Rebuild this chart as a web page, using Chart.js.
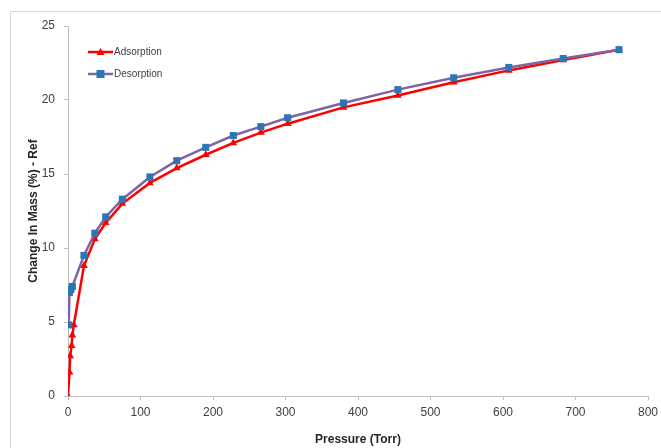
<!DOCTYPE html>
<html>
<head>
<meta charset="utf-8">
<script src="https://cdn.jsdelivr.net/npm/chart.js@4/dist/chart.umd.min.js"></script>
<style>
  html, body { margin: 0; padding: 0; background: #fff; }
  #wrap { width: 661px; height: 448px; position: relative; }
</style>
</head>
<body>
<div id="wrap"><canvas id="isoChart" width="661" height="448"></canvas></div>
<script>
// isotherm data
const adsPressure = [0, 2, 3, 5, 6, 8, 22, 37, 52, 75, 113, 150, 190, 228, 266, 303, 380, 455, 532, 608, 683, 760];
const adsMass = [0, 1.6, 2.7, 3.4, 4.1, 4.8, 8.8, 10.6, 11.7, 13.0, 14.4, 15.4, 16.3, 17.1, 17.8, 18.4, 19.5, 20.3, 21.2, 22.0, 22.7, 23.4];

const desPressure = [760, 683, 608, 532, 455, 380, 303, 266, 228, 190, 150, 113, 75, 52, 37, 22, 6, 4, 2, 1];
const desMass = [23.4, 22.8, 22.2, 21.5, 20.7, 19.8, 18.8, 18.2, 17.6, 16.8, 15.9, 14.8, 13.3, 12.1, 11.0, 9.5, 7.4, 7.2, 7.0, 4.8];

const seriesNames = ['Adsorption', 'Desorption'];
const xTitle = 'Pressure (Torr)';
const yTitle = 'Change In Mass (%) - Ref';

function pts(xs, ys) {
  return xs.map((x, i) => ({ x: x, y: ys[i] }));
}

// outer frame + legend inside plot area
const extras = {
  id: 'extras',
  afterDraw(chart) {
    const ctx = chart.ctx;
    ctx.save();
    ctx.strokeStyle = '#d9d9d9';
    ctx.lineWidth = 1;
    ctx.beginPath();
    ctx.moveTo(10.5, 448);
    ctx.lineTo(10.5, 11.5);
    ctx.lineTo(661, 11.5);
    ctx.stroke();

    const items = [
      { label: seriesNames[0], line: '#ff0000', fill: '#ff0000', shape: 'tri', y: 52 },
      { label: seriesNames[1], line: '#8064a2', fill: '#2e75b6', shape: 'sq', y: 74 }
    ];
    items.forEach(it => {
      ctx.strokeStyle = it.line;
      ctx.lineWidth = 2.5;
      ctx.beginPath();
      ctx.moveTo(88, it.y);
      ctx.lineTo(113, it.y);
      ctx.stroke();
      ctx.fillStyle = it.fill;
      ctx.beginPath();
      if (it.shape === 'tri') {
        ctx.moveTo(100.5, it.y - 4);
        ctx.lineTo(104.5, it.y + 3);
        ctx.lineTo(96.5, it.y + 3);
        ctx.closePath();
      } else {
        ctx.rect(96.5, it.y - 4, 8, 8);
      }
      ctx.fill();
      ctx.fillStyle = '#404040';
      ctx.font = '10px "Liberation Sans", Arial, sans-serif';
      ctx.textBaseline = 'middle';
      ctx.fillText(it.label, 114, it.y);
    });
    ctx.restore();
  }
};

new Chart(document.getElementById('isoChart'), {
  type: 'scatter',
  data: {
    datasets: [
      {
        label: seriesNames[1],
        data: pts(desPressure, desMass),
        showLine: true,
        borderColor: '#8064a2',
        borderWidth: 2.5,
        pointStyle: 'rect',
        pointRadius: 5,
        pointBackgroundColor: '#2e75b6',
        pointBorderColor: '#2e75b6',
        pointBorderWidth: 0,
        tension: 0
      },
      {
        label: seriesNames[0],
        data: pts(adsPressure, adsMass),
        showLine: true,
        borderColor: '#ff0000',
        borderWidth: 2.5,
        pointStyle: 'triangle',
        pointRadius: 4.5,
        pointBackgroundColor: '#ff0000',
        pointBorderColor: '#ff0000',
        pointBorderWidth: 0,
        tension: 0
      }
    ]
  },
  options: {
    responsive: false,
    animation: false,
    layout: { padding: { left: 26, right: 13, top: 26, bottom: 1 } },
    plugins: { legend: { display: false }, tooltip: { enabled: false } },
    scales: {
      x: {
        type: 'linear',
        min: 0, max: 800,
        ticks: { stepSize: 100, color: '#404040', padding: 5, maxRotation: 0,
          font: { size: 12, family: '"Liberation Sans", Arial, sans-serif' } },
        grid: { drawOnChartArea: false, drawTicks: true, tickLength: 4, color: '#bfbfbf' },
        border: { color: '#bfbfbf' },
        title: { display: true, text: xTitle, color: '#262626', padding: 0,
          font: { size: 12, weight: 'bold', family: '"Liberation Sans", Arial, sans-serif' } },
        afterFit(scale) {
          scale.height = 51;
          scale.paddingRight = 0;
          scale.paddingLeft = 0;
        }
      },
      y: {
        min: 0, max: 25,
        ticks: { stepSize: 5, color: '#404040', padding: 9,
          font: { size: 12, family: '"Liberation Sans", Arial, sans-serif' } },
        grid: { drawOnChartArea: false, drawTicks: true, tickLength: 4, color: '#bfbfbf' },
        border: { color: '#bfbfbf' },
        title: { display: true, text: yTitle, color: '#262626', padding: 0,
          font: { size: 12, weight: 'bold', family: '"Liberation Sans", Arial, sans-serif' } },
        afterFit(scale) { scale.width = 42; }
      }
    }
  },
  plugins: [extras]
});
</script>
</body>
</html>
